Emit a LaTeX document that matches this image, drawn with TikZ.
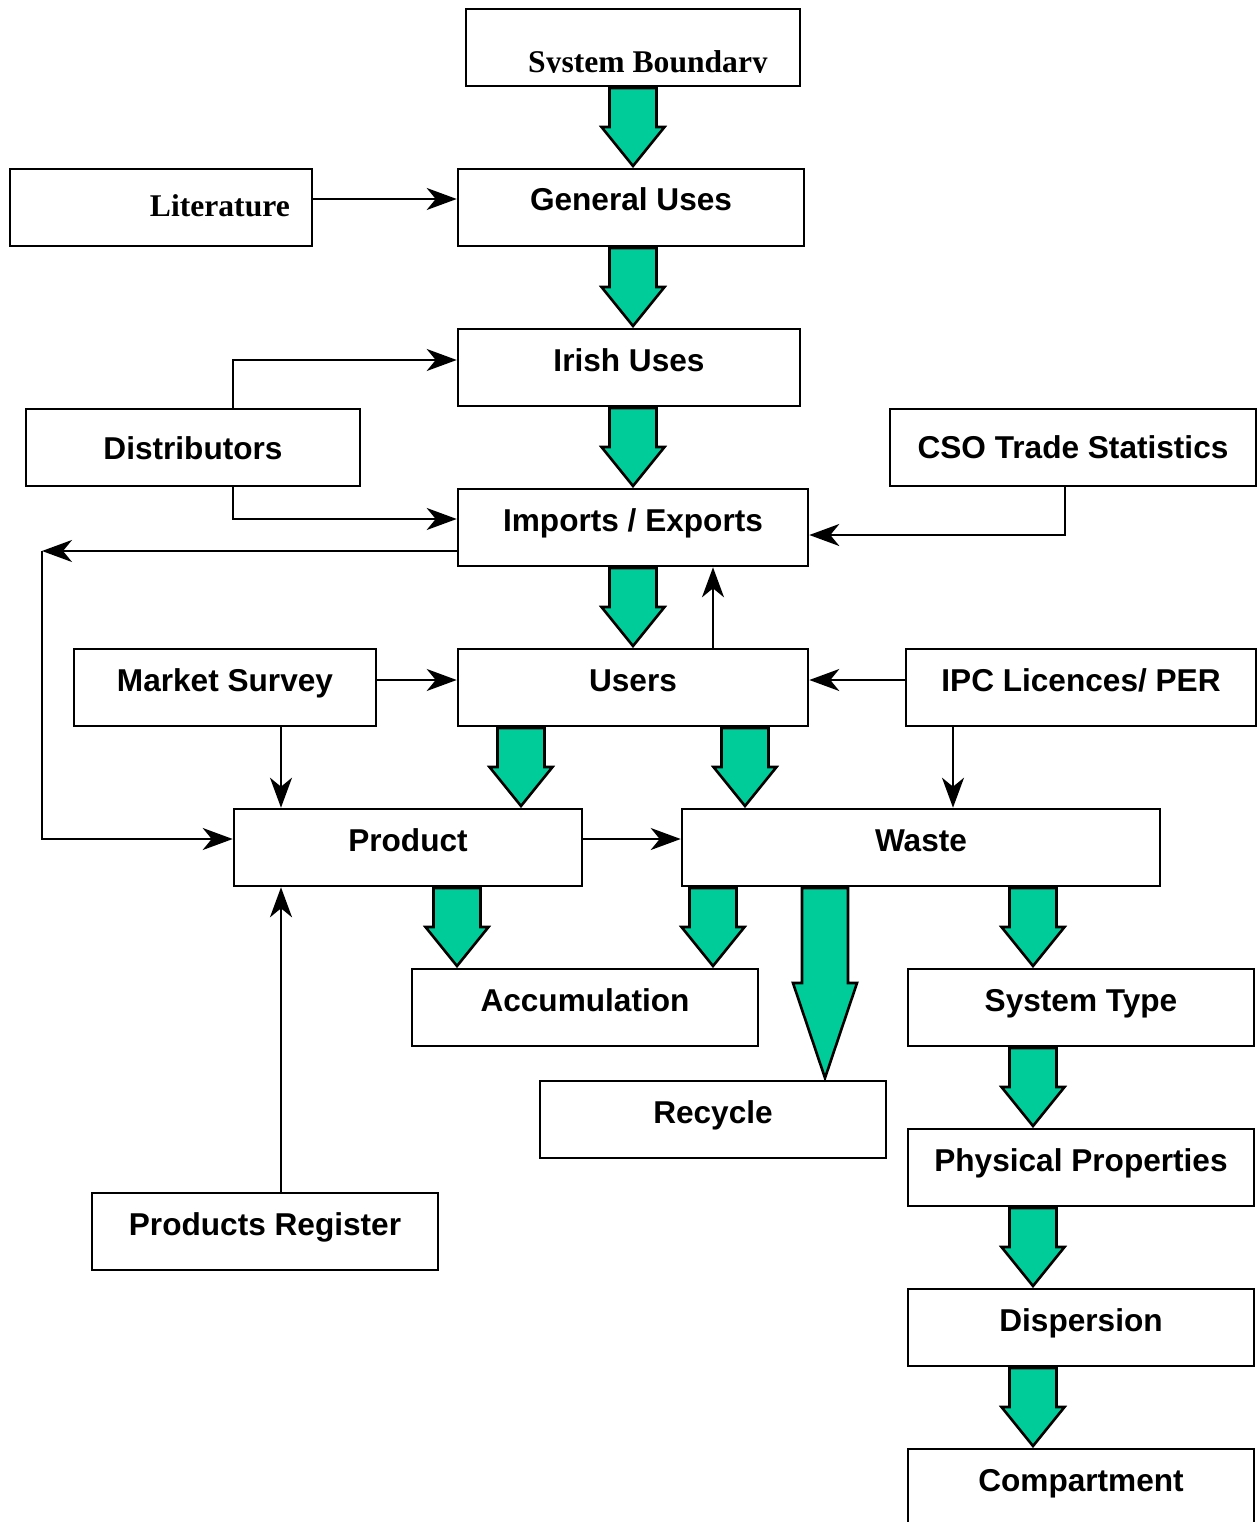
\documentclass[tikz,border=0pt]{standalone}
\usepackage{fontspec}
\setmainfont{Liberation Serif}
\newfontfamily\arialfont{Liberation Sans}
\usetikzlibrary{arrows.meta,calc}
\definecolor{flowgreen}{RGB}{0,204,153}
\tikzset{
  box/.style={draw, line width=2.6pt, inner sep=0pt, fill=white},
  lbl/.style={font=\arialfont\bfseries\fontsize{31.6}{36}\selectfont, inner sep=0pt, anchor=base},
  slbl/.style={font=\bfseries\fontsize{31.6}{36}\selectfont, inner sep=0pt},
  conn/.style={line width=2.2pt, -{Stealth[length=30pt,width=22pt,inset=9pt]}},
  blockarrow/.style={draw, line width=2.6pt, fill=flowgreen, line join=miter},
}
\newcommand{\flowbox}[7][42]{%
  \node[box, minimum width={#5-#3}, minimum height={#6-#4}] (#2) at ({(#3+#5)/2},{(#4+#6)/2}) {};
  \node[lbl] (#2-t) at ({(#3+#5)/2},{#4+#1}) {#7};}
\newcommand{\emptybox}[5]{%
  \node[box, minimum width={#4-#2}, minimum height={#5-#3}] (#1) at ({(#2+#4)/2},{(#3+#5)/2}) {};}
\newcommand{\garrow}[6]{% tipx, topy, headstarty, tipy, shaft half, head half
  \draw[blockarrow] ({#1-#5},#2) -- ({#1+#5},#2) -- ({#1+#5},#3) -- ({#1+#6},#3) -- (#1,#4) -- ({#1-#6},#3) -- ({#1-#5},#3) -- cycle;}
\begin{document}
\begin{tikzpicture}[x=1pt,y=-1pt]
\clip (0,0) rectangle (1257,1522);
\fill[white] (0,0) rectangle (1257,1522);
% boxes
\emptybox{sb}{466}{9}{800}{86}
\begin{scope}
  \clip (466,9) rectangle (800,72.5);
  \node[slbl, anchor=base west] (sb-t) at (528,73) {System Boundary};
\end{scope}
\emptybox{lit}{10}{169}{312}{246}
\node[slbl, anchor=base east] (lit-t) at (290,217) {Literature};
\flowbox{gu}{458}{169}{804}{246}{General Uses}
\flowbox{iu}{458}{329}{800}{406}{Irish Uses}
\flowbox[50]{dist}{26}{409}{360}{486}{Distributors}
\flowbox[49]{cso}{890}{409}{1256}{486}{CSO Trade Statistics}
\flowbox{ie}{458}{489}{808}{566}{Imports / Exports}
\flowbox{ms}{74}{649}{376}{726}{Market Survey}
\flowbox{users}{458}{649}{808}{726}{Users}
\flowbox{ipc}{906}{649}{1256}{726}{IPC Licences/ PER}
\flowbox{prod}{234}{809}{582}{886}{Product}
\flowbox{waste}{682}{809}{1160}{886}{Waste}
\flowbox{acc}{412}{969}{758}{1046}{Accumulation}
\flowbox{st}{908}{969}{1254}{1046}{System Type}
\flowbox{rec}{540}{1081}{886}{1158}{Recycle}
\flowbox{pp}{908}{1129}{1254}{1206}{Physical Properties}
\flowbox{pr}{92}{1193}{438}{1270}{Products Register}
\flowbox{disp}{908}{1289}{1254}{1366}{Dispersion}
\flowbox{comp}{908}{1449}{1254}{1545}{Compartment}
% green block arrows
\garrow{633}{88}{127}{166}{23.5}{31.5}
\garrow{633}{248}{287}{326}{23.5}{31.5}
\garrow{633}{408}{447}{486}{23.5}{31.5}
\garrow{633}{568}{607}{646}{23.5}{31.5}
\garrow{521}{728}{767}{806}{23.5}{31.5}
\garrow{745}{728}{767}{806}{23.5}{31.5}
\garrow{457}{888}{927}{966}{23.5}{31.5}
\garrow{713}{888}{927}{966}{23.5}{31.5}
\garrow{825}{888}{983}{1078}{23}{32}
\garrow{1033}{888}{927}{966}{23.5}{31.5}
\garrow{1033}{1048}{1087}{1126}{23.5}{31.5}
\garrow{1033}{1208}{1247}{1286}{23.5}{31.5}
\garrow{1033}{1368}{1407}{1446}{23.5}{31.5}
% thin connectors
\draw[conn] (lit.east |- 0,199) -- (gu.west |- 0,199);
\draw[conn] (dist.north -| 233,0) -- (233,360) -- (iu.west |- 0,360);
\draw[conn] (dist.south -| 233,0) -- (233,519) -- (ie.west |- 0,519);
\draw[conn] (ie.west |- 0,551) -- (42,551);
\coordinate (leftcorner) at (42,551);
\draw[conn] (leftcorner) -- (42,839) -- (prod.west |- 0,839);
\draw[conn] (cso.south -| 1065,0) -- (1065,535) -- (ie.east |- 0,535);
\draw[conn] (users.north -| 713,0) -- (ie.south -| 713,0);
\draw[conn] (ms.east |- 0,680) -- (users.west |- 0,680);
\draw[conn] (ipc.west |- 0,680) -- (users.east |- 0,680);
\draw[conn] (ms.south -| 281,0) -- (prod.north -| 281,0);
\draw[conn] (ipc.south -| 953,0) -- (waste.north -| 953,0);
\draw[conn] (prod.east |- 0,839) -- (waste.west |- 0,839);
\draw[conn] (pr.north -| 281,0) -- (prod.south -| 281,0);
\end{tikzpicture}
\end{document}
